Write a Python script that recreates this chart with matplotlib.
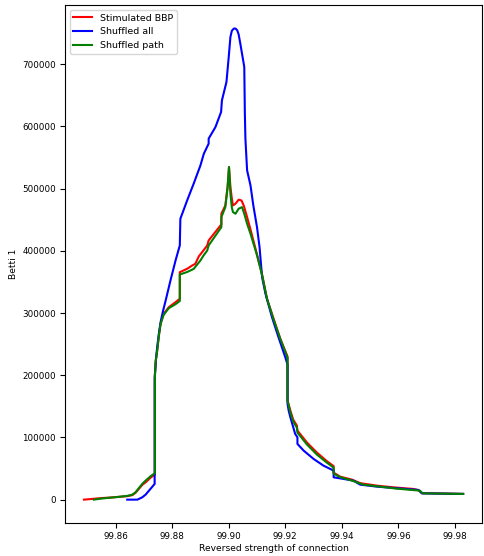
import matplotlib
matplotlib.use("Agg")
import matplotlib.pyplot as plt

# Stimulated BBP
x_bbp = [99.8488, 99.8547, 99.8600, 99.8641, 99.8659, 99.8671, 99.8682, 99.8695, 99.8706, 99.8724,
         99.8736, 99.8739, 99.8739, 99.8742, 99.8747, 99.8753, 99.8759, 99.8770, 99.8788, 99.8812,
         99.8827, 99.8827, 99.8853, 99.8871, 99.8882, 99.8894, 99.8906, 99.8924, 99.8929, 99.8971,
         99.8974, 99.8974, 99.8988, 99.8996, 99.9001, 99.9006, 99.9011, 99.9015, 99.9024, 99.9035,
         99.9045, 99.9053, 99.9065, 99.9077, 99.9100, 99.9118, 99.9135, 99.9159, 99.9182, 99.9208,
         99.9208, 99.9218, 99.9228, 99.9241, 99.9243, 99.9277, 99.9312, 99.9347, 99.9371, 99.9371,
         99.9394, 99.9436, 99.9465, 99.9524, 99.9582, 99.9653, 99.9671, 99.9683, 99.9829]
y_bbp = [0, 2400, 4000, 5600, 7200, 11300, 17200, 24100, 27800, 35400,
         39400, 40200, 200000, 223700, 239700, 263900, 282700, 298800, 309400, 317500,
         323000, 365700, 371200, 376500, 379200, 391000, 397900, 408700, 416700, 440900,
         442500, 459700, 473000, 502500, 534700, 502500, 484300, 473000, 475800, 482200,
         481100, 473000, 454200, 434400, 394200, 362000, 323400, 290400, 259000, 230100,
         159300, 143200, 128700, 119100, 111000, 91700, 75600, 61900, 53900, 43400,
         37000, 32200, 26500, 22500, 19800, 17200, 15300, 10500, 9200]

# Shuffled all
x_all = [99.8641, 99.8677, 99.8694, 99.8706, 99.8718, 99.8727, 99.8738, 99.8738, 99.8743, 99.8747,
         99.8753, 99.8759, 99.8768, 99.8777, 99.8794, 99.8812, 99.8827, 99.8829, 99.8853, 99.8876,
         99.8900, 99.8912, 99.8929, 99.8929, 99.8953, 99.8973, 99.8976, 99.8992, 99.9000, 99.9006,
         99.9011, 99.9018, 99.9024, 99.9030, 99.9035, 99.9041, 99.9053, 99.9055, 99.9057, 99.9059,
         99.9065, 99.9077, 99.9087, 99.9100, 99.9109, 99.9118, 99.9130, 99.9153, 99.9176, 99.9200,
         99.9208, 99.9208, 99.9212, 99.9218, 99.9235, 99.9243, 99.9243, 99.9265, 99.9300, 99.9335,
         99.9371, 99.9371, 99.9406, 99.9441, 99.9465, 99.9524, 99.9582, 99.9671, 99.9683, 99.9829]
y_all = [0, 0, 3700, 8000, 14500, 19300, 25300, 195000, 226900, 245000,
         267100, 285300, 304100, 320200, 352400, 384600, 408700, 451600, 481100, 508000,
         537400, 556200, 572300, 580400, 599000, 623200, 642000, 671500, 711700, 743900,
         753800, 757400, 757400, 754600, 748200, 733200, 701000, 695600, 622700, 580400,
         529400, 505200, 473000, 438100, 406000, 357700, 331000, 293300, 261100, 229000,
         217200, 154000, 143200, 132400, 105700, 100200, 89600, 78800, 65500, 54700,
         46700, 35900, 33300, 30600, 24100, 20900, 18800, 15600, 10100, 9200]

# Shuffled path
x_path = [99.8523, 99.8547, 99.8600, 99.8641, 99.8659, 99.8671, 99.8682, 99.8695, 99.8706, 99.8724,
          99.8739, 99.8739, 99.8742, 99.8747, 99.8753, 99.8759, 99.8770, 99.8788, 99.8812, 99.8827,
          99.8827, 99.8853, 99.8876, 99.8900, 99.8911, 99.8924, 99.8929, 99.8974, 99.8974, 99.8988,
          99.8996, 99.9001, 99.9006, 99.9011, 99.9015, 99.9024, 99.9035, 99.9047, 99.9055, 99.9065,
          99.9077, 99.9100, 99.9118, 99.9135, 99.9159, 99.9182, 99.9208, 99.9208, 99.9218, 99.9228,
          99.9241, 99.9243, 99.9277, 99.9312, 99.9347, 99.9371, 99.9371, 99.9394, 99.9436, 99.9476,
          99.9535, 99.9594, 99.9676, 99.9686, 99.9829]
y_path = [0, 1600, 4000, 6000, 8000, 12100, 18500, 25700, 30600, 37800,
          42600, 200000, 223700, 239700, 263900, 282700, 297200, 307800, 314300, 319400,
          362000, 366000, 370900, 384600, 392600, 400600, 408700, 438100, 454200, 470300,
          502500, 534700, 491900, 469800, 462300, 459700, 467700, 470300, 459700, 443600,
          427500, 393000, 361000, 323400, 289000, 259000, 228000, 159300, 140000, 125500,
          115800, 107800, 88500, 72400, 59500, 51500, 41800, 36200, 30600, 24100,
          20900, 17700, 14500, 10100, 9200]

fig = plt.figure(figsize=(4.85, 5.56), dpi=100)
ax = fig.add_axes([0.134, 0.059, 0.860, 0.932])

ax.plot(x_bbp, y_bbp, color="red", linewidth=1.5, label="Stimulated BBP")
ax.plot(x_all, y_all, color="blue", linewidth=1.5, label="Shuffled all")
ax.plot(x_path, y_path, color="green", linewidth=1.5, label="Shuffled path")

ax.set_xticks([99.86, 99.88, 99.90, 99.92, 99.94, 99.96, 99.98])
ax.set_xticklabels(["99.86", "99.88", "99.90", "99.92", "99.94", "99.96", "99.98"])
ax.ticklabel_format(axis="y", style="plain", useOffset=False)
ax.tick_params(length=3.5, pad=3, labelsize=6.3)
ax.set_xlabel("Reversed strength of connection", fontsize=6.6, labelpad=2)
ax.set_ylabel("Betti 1", fontsize=6.6, va="center")
ax.yaxis.set_label_coords(-0.1235, 0.5)
ax.legend(loc="upper left", fontsize=6.8)

fig.savefig("out.png", dpi=100)
